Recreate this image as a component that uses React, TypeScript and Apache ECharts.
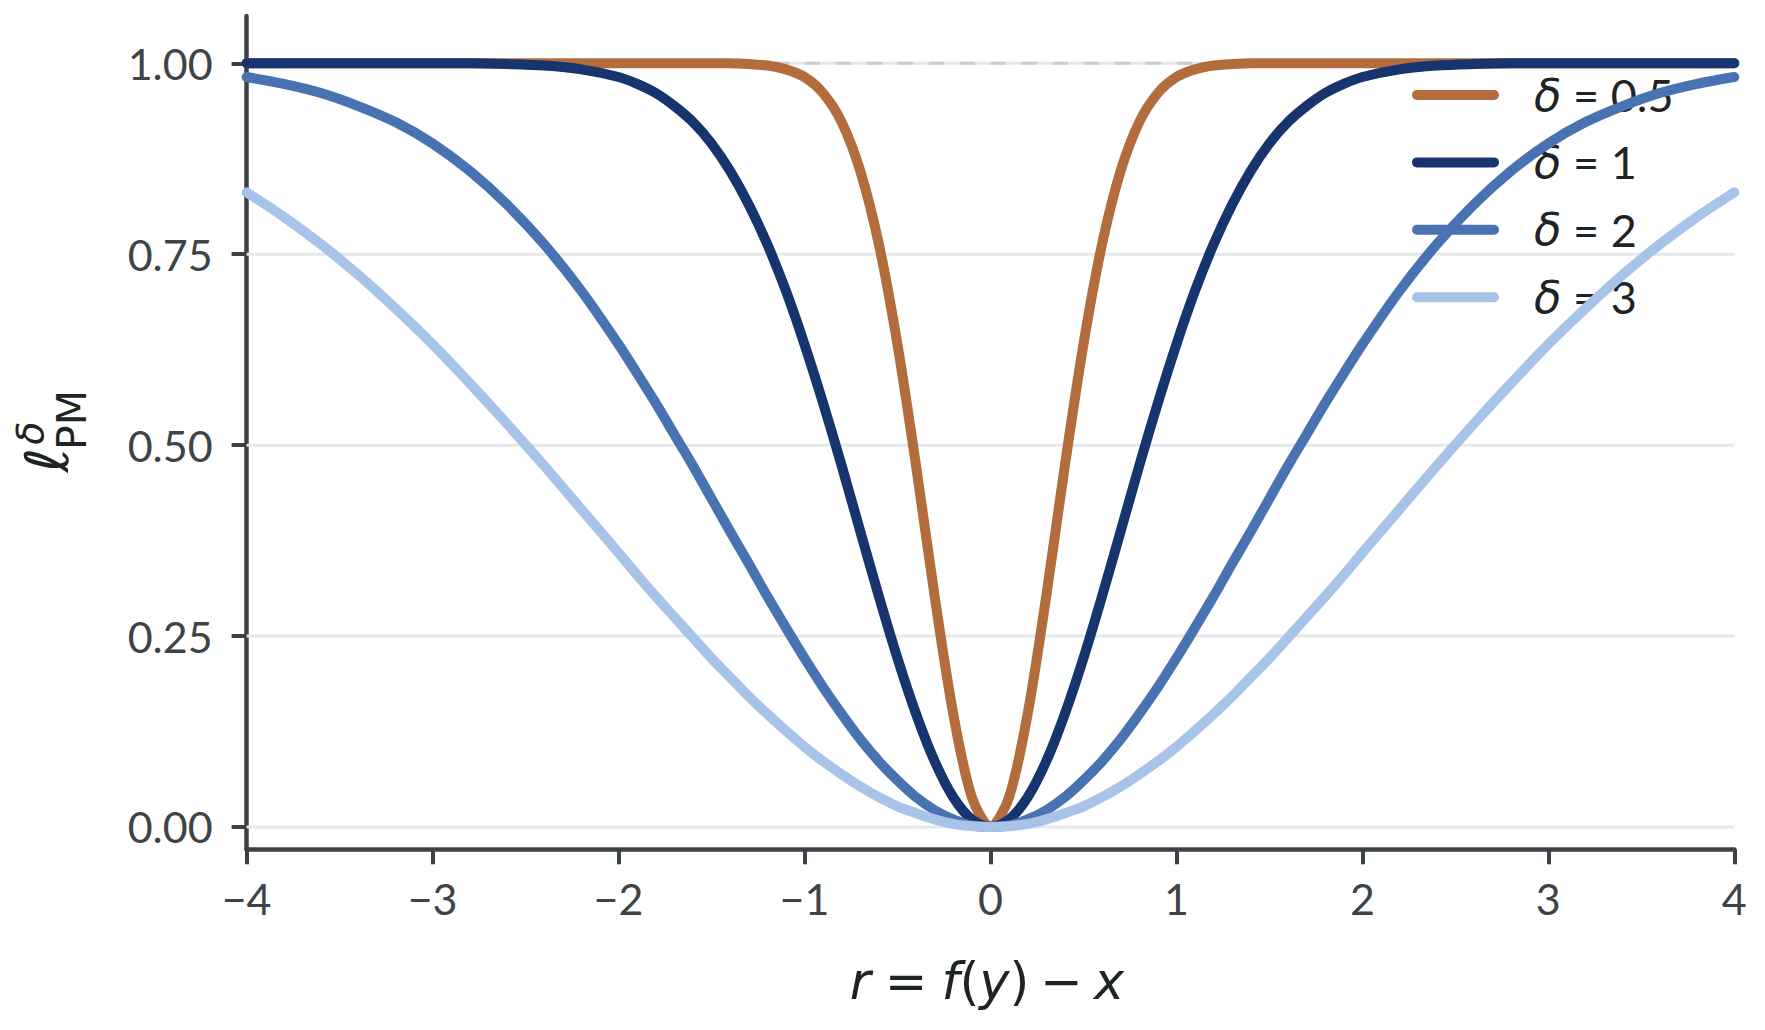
import React, { useEffect, useRef } from "react";
import * as echarts from "echarts";

// residual r values (shared sample positions read along the x axis)
const rValues = [
  -4, -3.8, -3.6, -3.4, -3.2, -3, -2.8, -2.6, -2.4, -2.2,
  -2, -1.9, -1.8, -1.7, -1.6, -1.5, -1.4, -1.3, -1.2, -1.1,
  -1, -0.9, -0.8, -0.7, -0.6, -0.5, -0.4, -0.3, -0.2, -0.1,
  0,
  0.1, 0.2, 0.3, 0.4, 0.5, 0.6, 0.7, 0.8, 0.9, 1,
  1.1, 1.2, 1.3, 1.4, 1.5, 1.6, 1.7, 1.8, 1.9, 2,
  2.2, 2.4, 2.6, 2.8, 3, 3.2, 3.4, 3.6, 3.8, 4,
];

const lossDelta05 = [
  1, 1, 1, 1, 1, 1, 1, 1, 1, 1,
  1, 1, 1, 1, 1, 1, 1, 0.999, 0.997, 0.992,
  0.982, 0.961, 0.923, 0.859, 0.763, 0.632, 0.473, 0.302, 0.148, 0.039,
  0,
  0.039, 0.148, 0.302, 0.473, 0.632, 0.763, 0.859, 0.923, 0.961, 0.982,
  0.992, 0.997, 0.999, 1, 1, 1, 1, 1, 1, 1,
  1, 1, 1, 1, 1, 1, 1, 1, 1, 1,
];

const lossDelta1 = [
  1, 1, 1, 1, 1, 1, 1, 0.999, 0.997, 0.992,
  0.982, 0.973, 0.961, 0.944, 0.923, 0.895, 0.859, 0.815, 0.763, 0.702,
  0.632, 0.555, 0.473, 0.387, 0.302, 0.221, 0.148, 0.086, 0.039, 0.01,
  0,
  0.01, 0.039, 0.086, 0.148, 0.221, 0.302, 0.387, 0.473, 0.555, 0.632,
  0.702, 0.763, 0.815, 0.859, 0.895, 0.923, 0.944, 0.961, 0.973, 0.982,
  0.992, 0.997, 0.999, 1, 1, 1, 1, 1, 1, 1,
];

const lossDelta2 = [
  0.982, 0.973, 0.961, 0.944, 0.923, 0.895, 0.859, 0.815, 0.763, 0.702,
  0.632, 0.594, 0.555, 0.514, 0.473, 0.43, 0.387, 0.345, 0.302, 0.261,
  0.221, 0.183, 0.148, 0.115, 0.086, 0.061, 0.039, 0.022, 0.01, 0.002,
  0,
  0.002, 0.01, 0.022, 0.039, 0.061, 0.086, 0.115, 0.148, 0.183, 0.221,
  0.261, 0.302, 0.345, 0.387, 0.43, 0.473, 0.514, 0.555, 0.594, 0.632,
  0.702, 0.763, 0.815, 0.859, 0.895, 0.923, 0.944, 0.961, 0.973, 0.982,
];

const lossDelta3 = [
  0.831, 0.799, 0.763, 0.723, 0.679, 0.632, 0.581, 0.528, 0.473, 0.416,
  0.359, 0.33, 0.302, 0.275, 0.248, 0.221, 0.196, 0.171, 0.148, 0.126,
  0.105, 0.086, 0.069, 0.053, 0.039, 0.027, 0.018, 0.01, 0.004, 0.001,
  0,
  0.001, 0.004, 0.01, 0.018, 0.027, 0.039, 0.053, 0.069, 0.086, 0.105,
  0.126, 0.148, 0.171, 0.196, 0.221, 0.248, 0.275, 0.302, 0.33, 0.359,
  0.416, 0.473, 0.528, 0.581, 0.632, 0.679, 0.723, 0.763, 0.799, 0.831,
];

const seriesNames = ["δ = 0.5", "δ = 1", "δ = 2", "δ = 3"];
const seriesValues = [lossDelta05, lossDelta1, lossDelta2, lossDelta3];
const yTickValues = [0, 0.25, 0.5, 0.75, 1];
const xRange = [-4, 4];
const upperBound = 1;

const COLORS = ["#b36c3c", "#17346e", "#4872b2", "#a8c3e8"];
const AXIS = "#3b4144";
const TICK_TEXT = "#3d4447";
const DARK_TEXT = "#1e2424";

export default function App() {
  const ref = useRef<HTMLDivElement>(null);

  useEffect(() => {
    if (!ref.current) return;
    const chart = echarts.init(ref.current, undefined, { renderer: "svg" });

    const curveSeries = seriesNames.map((name, i) => ({
      type: "line",
      name,
      data: rValues.map((x, k) => [x, seriesValues[i][k]]),
      showSymbol: false,
      symbol: "none",
      smooth: 0.3,
      z: 5 + i,
      lineStyle: { width: 10, color: COLORS[i], cap: "round", join: "round" },
      itemStyle: { color: COLORS[i] },
      emphasis: { disabled: true },
    }));

    const gridSeries = yTickValues.map((v) => ({
      type: "line",
      name: "grid" + v,
      data: xRange.map((x) => [x, v]),
      showSymbol: false,
      symbol: "none",
      silent: true,
      z: 1,
      lineStyle: { color: "#e6e9ec", width: 3, type: "solid" },
      emphasis: { disabled: true },
    }));

    const boundSeries = {
      type: "line",
      name: "bound",
      data: xRange.map((x) => [x, upperBound]),
      showSymbol: false,
      symbol: "none",
      silent: true,
      z: 2,
      lineStyle: { color: "#c8cdd0", width: 3, type: [15.5, 15.5] },
      emphasis: { disabled: true },
    };

    const mathRich = {
      i: { fontFamily: "DejaVu Sans", fontStyle: "italic", fontSize: 51, fill: DARK_TEXT },
      n: { fontFamily: "DejaVu Sans", fontSize: 51, fill: DARK_TEXT },
      o: { fontFamily: "DejaVu Sans", fontSize: 51, fill: DARK_TEXT, padding: [0, 14] },
      m: { fontFamily: "DejaVu Sans", fontSize: 51, fill: DARK_TEXT, padding: [0, 11] },
    };

    const option = {
      animation: false,
      backgroundColor: "#ffffff",
      grid: { left: 246.6, right: 30.7, top: 16, bottom: 180.7, containLabel: false },
      xAxis: {
        type: "value",
        min: -4,
        max: 4,
        interval: 1,
        axisLine: { show: true, onZero: false, lineStyle: { color: AXIS, width: 4.5 } },
        axisTick: { show: true, length: 15, lineStyle: { color: AXIS, width: 4 } },
        axisLabel: {
          formatter: (v: number) => String(v).replace("-", "\u2212"),
          margin: 28,
          fontFamily: "Lato",
          fontSize: 43,
          color: TICK_TEXT,
        },
        splitLine: { show: false },
      },
      yAxis: {
        type: "value",
        min: -0.0292,
        max: 1.0619,
        axisLine: { show: true, onZero: false, lineStyle: { color: AXIS, width: 4.5 } },
        axisTick: {
          show: true,
          length: 15,
          lineStyle: { color: AXIS, width: 4 },
          customValues: yTickValues,
        },
        axisLabel: {
          customValues: yTickValues,
          formatter: (v: number) => v.toFixed(2),
          margin: 34,
          fontFamily: "Lato",
          fontSize: 43,
          color: TICK_TEXT,
        },
        splitLine: { show: false },
      },
      legend: {
        data: seriesNames,
        orient: "vertical",
        left: 1412,
        top: 72,
        padding: 0,
        itemWidth: 87,
        itemHeight: 10,
        itemGap: 21.4,
        icon: "path://M5,0 L82,0 A5,5 0 0 1 82,10 L5,10 A5,5 0 0 1 5,0 Z",
        itemStyle: { borderWidth: 0 },
        selectedMode: false,
        formatter: (name: string) => "{d|δ}" + name.slice(1),
        textStyle: {
          fontFamily: "Lato",
          fontSize: 45,
          lineHeight: 46,
          color: DARK_TEXT,
          padding: [0, 0, 0, 30],
          rich: {
            d: {
              fontFamily: "DejaVu Sans",
              fontStyle: "italic",
              fontSize: 45,
              lineHeight: 46,
              color: DARK_TEXT,
            },
          },
        },
      },
      graphic: [
        {
          type: "text",
          x: 987,
          y: 981,
          silent: true,
          style: {
            text: "{i|r}{o|=}{i|f}{n|(}{i|y}{n|)}{m|\u2212}{i|x}",
            rich: mathRich,
            fill: DARK_TEXT,
            fontSize: 51,
            fontFamily: "DejaVu Sans",
            align: "center",
            verticalAlign: "middle",
          },
        },
        {
          type: "text",
          x: 47,
          y: 460,
          rotation: Math.PI / 2,
          silent: true,
          style: {
            text: "\u2113",
            fill: DARK_TEXT,
            fontSize: 60,
            fontFamily: "DejaVu Sans",
            fontStyle: "italic",
            align: "center",
            verticalAlign: "middle",
          },
        },
        {
          type: "text",
          x: 30,
          y: 433,
          rotation: Math.PI / 2,
          silent: true,
          style: {
            text: "δ",
            fill: DARK_TEXT,
            fontSize: 38,
            fontFamily: "DejaVu Sans",
            fontStyle: "italic",
            align: "center",
            verticalAlign: "middle",
          },
        },
        {
          type: "text",
          x: 72,
          y: 420,
          rotation: Math.PI / 2,
          silent: true,
          style: {
            text: "PM",
            fill: DARK_TEXT,
            fontSize: 41,
            fontFamily: "DejaVu Sans",
            align: "center",
            verticalAlign: "middle",
          },
        },
      ],
      series: [...gridSeries, boundSeries, ...curveSeries],
    };

    chart.setOption(option as any);
    return () => chart.dispose();
  }, []);

  return (
    <div
      ref={ref}
      style={{ position: "absolute", left: 0, top: 0, width: 1765, height: 1030, background: "#fff" }}
    />
  );
}
